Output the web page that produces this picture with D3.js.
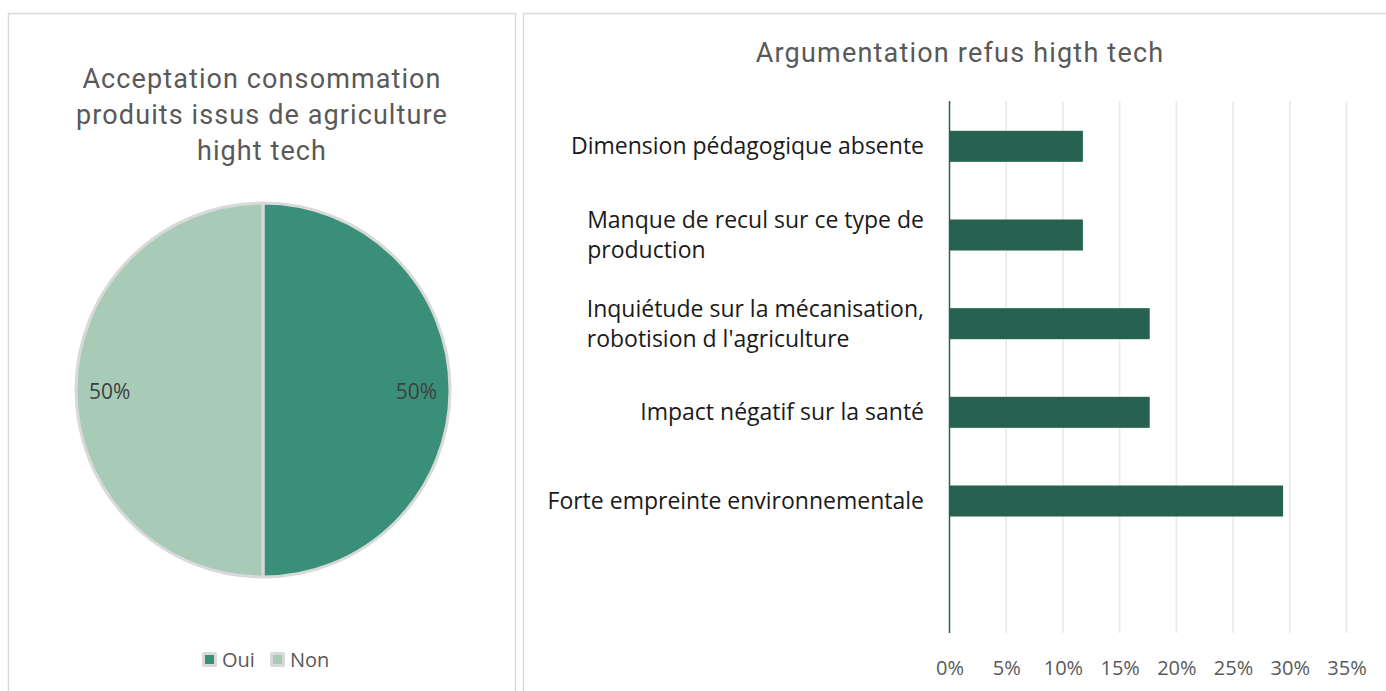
<!DOCTYPE html>
<html>
<head>
<meta charset="utf-8">
<script src="https://cdn.jsdelivr.net/npm/d3@7/dist/d3.min.js"></script>
<style>
  html, body { margin: 0; padding: 0; background: #fff; }
  svg { display: block; }
</style>
</head>
<body>
<svg id="chart" width="1386" height="691"></svg>
<script>
// ---- data ----
const pieLabels = ["Oui", "Non"];
const pieValues = [0.5, 0.5];
const pieColors = ["#3a8f78", "#a8cbb7"];

const barCategories = [
  "Dimension pédagogique absente",
  "Manque de recul sur ce type de|production",
  "Inquiétude sur la mécanisation,|robotision d l'agriculture",
  "Impact négatif sur la santé",
  "Forte empreinte environnementale",
  ""
];
const barValues = [0.1176, 0.1176, 0.1765, 0.1765, 0.2941, null];
const xTicks = [0, 0.05, 0.10, 0.15, 0.20, 0.25, 0.30, 0.35];

const leftTitle = ["Acceptation consommation", "produits issus de agriculture", "hight tech"];
const rightTitle = "Argumentation refus higth tech";

// ---- drawing ----
const svg = d3.select("#chart");
const titleFont = "Roboto, 'DejaVu Sans', sans-serif";
const bodyFont = "'Open Sans', 'Noto Sans', sans-serif";

// panels
svg.append("rect").attr("x", 8.5).attr("y", 13.5).attr("width", 507).attr("height", 700)
  .attr("fill", "#fff").attr("stroke", "#d9d9d9").attr("stroke-width", 1.5);
svg.append("rect").attr("x", 523.5).attr("y", 13.5).attr("width", 900).attr("height", 700)
  .attr("fill", "#fff").attr("stroke", "#d9d9d9").attr("stroke-width", 1.5);

// ---- left: pie ----
const lt = svg.append("text").attr("text-anchor", "middle")
  .attr("font-family", titleFont).attr("font-size", 27).attr("fill", "#595959")
  .attr("letter-spacing", 1.1);
leftTitle.forEach((l, i) => {
  lt.append("tspan").attr("x", 262).attr("y", 88 + i * 36).text(l);
});

const cx = 263, cy = 390, r = 187;
const pie = d3.pie().sort(null).value(d => d)(pieValues);
const arc = d3.arc().innerRadius(0).outerRadius(r);
const pg = svg.append("g").attr("transform", `translate(${cx},${cy})`);
pg.selectAll("path").data(pie).join("path")
  .attr("d", arc)
  .attr("fill", (d, i) => pieColors[i])
  .attr("stroke", "#d9d9d9").attr("stroke-width", 3).attr("stroke-linejoin", "round");

pg.selectAll("text.pl").data(pie).join("text")
  .attr("class", "pl")
  .attr("x", d => Math.sin((d.startAngle + d.endAngle) / 2) * r * 0.82)
  .attr("y", d => -Math.cos((d.startAngle + d.endAngle) / 2) * r * 0.82 + 9)
  .attr("text-anchor", "middle")
  .attr("font-family", bodyFont).attr("font-size", 21).attr("fill", "#404040")
  .text(d => d3.format(".0%")(d.data));

// legend
const lg = svg.append("g");
const legX = [202, 270];
pieLabels.forEach((l, i) => {
  lg.append("rect").attr("x", legX[i]).attr("y", 652).attr("width", 15).attr("height", 15)
    .attr("rx", 2).attr("fill", "#d9d9d9");
  lg.append("rect").attr("x", legX[i] + 3).attr("y", 655).attr("width", 9).attr("height", 9)
    .attr("fill", pieColors[i]);
  lg.append("text").attr("x", legX[i] + 20).attr("y", 667)
    .attr("font-family", bodyFont).attr("font-size", 20).attr("fill", "#595959").text(l);
});

// ---- right: bars ----
svg.append("text").attr("x", 960).attr("y", 62).attr("text-anchor", "middle")
  .attr("font-family", titleFont).attr("font-size", 27).attr("fill", "#595959")
  .attr("letter-spacing", 1.2).text(rightTitle);

const x = d3.scaleLinear().domain([0, 0.35]).range([949.5, 1346.5]);
const y = d3.scaleBand().domain(barCategories).range([101, 633])
  .paddingInner(0.65).paddingOuter(0.325);

// grid
svg.append("g").selectAll("line").data(xTicks.slice(1)).join("line")
  .attr("x1", d => x(d)).attr("x2", d => x(d))
  .attr("y1", 101).attr("y2", 633)
  .attr("stroke", "#e8e8e8").attr("stroke-width", 1.5);

// bars
svg.append("g").selectAll("rect")
  .data(barCategories.map((c, i) => ({ c, v: barValues[i] })).filter(d => d.v != null))
  .join("rect")
  .attr("x", x(0)).attr("y", d => y(d.c) + 1)
  .attr("width", d => x(d.v) - x(0)).attr("height", y.bandwidth())
  .attr("fill", "#276150");

// axis line
svg.append("line").attr("x1", x(0)).attr("x2", x(0)).attr("y1", 101).attr("y2", 633)
  .attr("stroke", "#276150").attr("stroke-width", 1.5);

// x tick labels
const xAxis = d3.axisBottom(x).tickValues(xTicks).tickFormat(d3.format(".0%")).tickSize(0).tickPadding(0);
const xg = svg.append("g").attr("transform", "translate(0,675)").call(xAxis);
xg.select(".domain").remove();
xg.selectAll("text").attr("font-family", bodyFont).attr("font-size", 20)
  .attr("fill", "#595959").attr("dy", 0);

// category labels
const catG = svg.append("g");
barCategories.forEach(c => {
  if (!c) return;
  const lines = c.split("|");
  const cyy = y(c) + y.bandwidth() / 2 + 1;
  const t = catG.append("text").attr("font-family", bodyFont).attr("font-size", 23)
    .attr("fill", "#1a1a1a");
  const lh = 30;
  const y0 = cyy - (lines.length - 1) * lh / 2 + 8;
  lines.forEach((l, i) => {
    t.append("tspan").attr("x", 0).attr("y", y0 + i * lh).text(l);
  });
  const w = t.node().getBBox().width;
  t.attr("transform", `translate(${924 - w},0)`);
});
</script>
</body>
</html>
